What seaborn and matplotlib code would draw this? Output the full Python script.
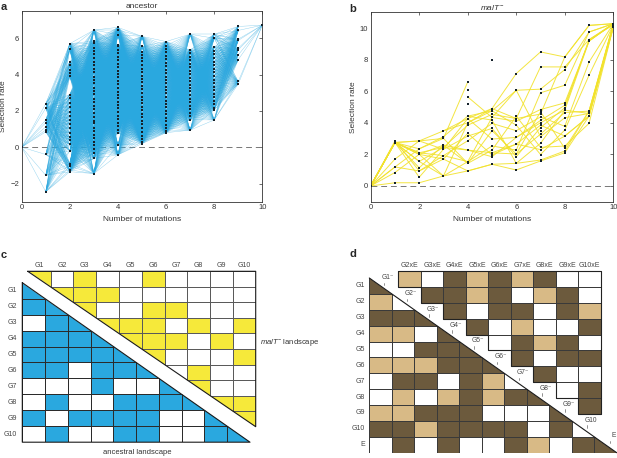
import numpy as np
import pandas as pd
import matplotlib
matplotlib.use("Agg")
import matplotlib.pyplot as plt
import seaborn as sns
from matplotlib.colors import ListedColormap
from matplotlib.patches import Polygon

sns.set_theme(style="white")
plt.rcParams["font.family"] = ["Liberation Sans", "DejaVu Sans"]
plt.rcParams["mathtext.fontset"] = "custom"
plt.rcParams["mathtext.rm"] = "Liberation Sans"
plt.rcParams["mathtext.it"] = "Liberation Sans:italic"

# ---------------- data: panel a (ancestor), selection rate per genotype by number of mutations
a_L0 = [0.0]
a_L1 = [2.4, 2.15, 1.5, 1.35, 1.12, 0.95, 0.85, -0.4, -1.55, -2.45]
a_L2 = [5.7, 5.4, 4.7, 4.5, 4.25, 4.1, 3.9, 2.9, 2.7, 2.45, 2.2, 1.95, 1.7, 1.5, 1.3,
        1.05, 0.8, 0.55, 0.4, 0.15, -0.2, -0.9, -1.05, -1.25, -1.35]
a_L3 = [6.45, 5.85, 5.72, 5.48, 5.31, 5.12, 4.93, 4.71, 4.55, 4.32, 4.14, 3.88, 3.71, 3.52,
        3.27, 3.08, 2.93, 2.66, 2.48, 2.27, 2.12, 1.86, 1.69, 1.47, 1.33, 1.08, 0.91, 0.68,
        0.52, 0.27, 0.11, -0.08, -0.3, -0.62, -1.45]
a_L4 = [6.6, 6.45, 6.2, 5.65, 5.55, 5.38, 5.19, 4.97, 4.82, 4.6, 4.44, 4.21, 4.03, 3.85,
        3.62, 3.47, 3.25, 3.06, 2.88, 2.71, 2.49, 2.3, 2.14, 1.93, 1.72, 1.55, 1.34, 1.17,
        0.96, 0.78, 0.1, -0.42]
a_L5 = [6.1, 5.55, 5.27, 5.08, 4.9, 4.72, 4.51, 4.33, 4.16, 3.94, 3.77, 3.58, 3.36, 3.18,
        2.97, 2.79, 2.61, 2.42, 2.2, 2.03, 1.81, 1.64, 1.43, 1.26, 1.05, 0.86, 0.64, 0.47,
        0.3, 0.2]
a_L6 = [5.82, 5.6, 5.41, 5.22, 5.03, 4.85, 4.64, 4.46, 4.27, 4.08, 3.89, 3.71, 3.52, 3.33,
        3.14, 2.96, 2.74, 2.57, 2.38, 2.19, 2.0, 1.82, 1.61, 1.43, 1.24, 1.06, 0.88, 0.8]
a_L7 = [6.22, 5.36, 5.18, 4.97, 4.79, 4.58, 4.4, 4.21, 4.02, 3.83, 3.62, 3.45, 3.24, 3.07,
        2.86, 2.68, 2.47, 2.29, 2.08, 1.89, 1.7, 1.52, 0.94]
a_L8 = [6.22, 6.0, 5.5, 5.31, 5.12, 4.93, 4.71, 4.52, 4.33, 4.12, 3.93, 3.72, 3.55, 3.34,
        3.15, 2.94, 2.75, 2.54, 2.36, 2.18, 2.05, 1.5]
a_L9 = [6.65, 6.43, 5.95, 5.88, 5.45, 5.36, 5.08, 4.82, 3.62, 3.48]
a_L10 = [6.72]
a_levels = [a_L0, a_L1, a_L2, a_L3, a_L4, a_L5, a_L6, a_L7, a_L8, a_L9, a_L10]

# ---------------- data: panel b (malT-)
b_L0 = [0.0]
b_L1 = [2.85, 2.75, 1.7, 1.2, 0.85, 0.2]
b_L2 = [2.85, 2.35, 2.1, 2.0, 1.55, 1.15, 0.95, 0.55, 0.2]
b_L3 = [3.49, 3.12, 3.01, 2.59, 2.44, 2.32, 1.92, 1.7, 0.63]
b_L4 = [6.59, 6.06, 5.64, 5.16, 4.42, 4.27, 4.0, 3.85, 3.33, 3.16, 2.86, 2.27, 1.54, 1.43, 0.95]
b_L5 = [7.96, 4.9, 4.76, 4.53, 4.34, 4.17, 3.96, 3.64, 3.5, 2.97, 2.53, 2.27, 2.1, 1.96, 1.85, 1.37]
b_L6 = [7.12, 6.06, 4.42, 4.27, 4.1, 3.85, 3.5, 3.07, 2.65, 2.27, 2.02, 1.85, 1.43, 1.01]
b_L7 = [8.49, 7.54, 6.13, 5.9, 4.84, 4.7, 4.55, 4.37, 4.15, 4.0, 3.85, 3.7, 3.5, 3.28, 3.12,
        2.7, 2.44, 2.3, 1.99, 1.64, 1.58]
b_L8 = [8.17, 7.54, 7.37, 6.38, 5.26, 5.11, 4.95, 4.8, 4.65, 4.32, 3.78, 3.54, 3.16, 2.53,
        2.38, 2.21, 2.1]
b_L9 = [10.17, 9.75, 9.27, 9.18, 7.85, 7.01, 4.74, 4.59, 4.42, 3.96]
b_L10 = [10.28, 10.2, 10.06]
b_levels = [b_L0, b_L1, b_L2, b_L3, b_L4, b_L5, b_L6, b_L7, b_L8, b_L9, b_L10]

N = None
b_paths = [
    [0, 2.75, 2.85, 3.49, 4.27, 4.9, 7.12, 8.49, 8.17, 10.17, 10.28],
    [0, 2.75, 2.35, 3.12, 4.42, 4.76, 6.06, 6.13, 7.37, 9.75, 10.28],
    [0, 2.75, 2.1, 2.44, 3.85, 4.53, 4.27, 7.54, 7.54, 9.27, 10.2],
    [0, 2.75, 2.0, 0.63, 1.54, 4.34, 4.1, 4.84, 5.26, 9.18, 10.28],
    [0, 2.75, 1.55, 0.63, 0.95, 1.37, 1.01, 1.58, 2.1, 4.42, 10.06],
    [0, 2.75, 1.15, 2.59, 2.27, 2.1, 2.02, 3.28, 4.65, 4.74, 10.2],
    [0, 2.85, 0.95, 1.92, 2.86, 3.96, 3.5, 4.37, 3.78, 7.85, 10.28],
    [0, 1.7, 2.85, 2.32, 4.27, 2.97, 3.07, 4.0, 4.8, 4.59, 10.2],
    [0, 1.2, 2.35, 3.01, 1.43, 2.27, 4.42, 2.44, 2.53, 3.96, 10.06],
    [0, 0.85, 2.0, 1.7, 3.33, 1.96, 2.65, 2.3, 3.16, 4.42, 10.28],
    [0, 0.2, 0.2, 0.63, 4.0, 4.76, 3.85, 1.99, 3.54, 7.01, 10.2],
    [0, 2.75, 0.55, 2.32, 3.16, 3.64, 1.85, 3.7, 4.95, 9.27, 10.28],
    [0, 2.75, 2.1, 1.92, 1.54, 2.53, 2.27, 5.9, 6.38, 9.75, 10.28],
    [0, 2.75, 2.85, 3.01, 6.59, N, N, N, N, N, N],
    [N, N, N, N, 4.42, 4.17, 1.43, 1.64, 2.21, 4.74, 10.06],
    [0, 2.75, 1.55, 2.44, 2.27, 1.85, 3.07, 4.15, 5.11, 9.18, 10.28],
    [0, 2.75, 2.0, 2.59, 1.43, 3.5, 2.02, 4.7, 2.38, 4.74, 10.28],
    [0, 1.2, 0.95, 1.7, 0.95, 1.37, 1.43, 2.7, 4.8, 9.18, 10.28],
    [N, N, N, 3.49, 4.0, 4.9, 4.27, 4.55, 8.17, 10.17, 10.28],
    [N, N, N, N, 5.64, 4.34, 6.06, 3.12, 4.32, 4.59, 10.2],
    [N, N, N, N, N, 2.1, 2.65, 3.85, 3.16, 4.42, 10.06],
]

# ---------------- data: panel c
genes = ["G1", "G2", "G3", "G4", "G5", "G6", "G7", "G8", "G9", "G10"]
c_anc_rows = [
    [1],
    [1, 1],
    [0, 1, 1],
    [1, 1, 1, 1],
    [1, 1, 1, 1, 1],
    [1, 1, 0, 1, 1, 1],
    [0, 0, 0, 1, 0, 0, 1],
    [0, 1, 0, 0, 1, 1, 1, 1],
    [1, 0, 1, 1, 1, 1, 0, 0, 1],
    [0, 1, 0, 0, 1, 1, 0, 0, 1, 1],
]
c_malT_rows = [
    [1, 0, 1, 0, 0, 1, 0, 0, 0, 0],
    [1, 1, 1, 0, 0, 0, 0, 0, 0],
    [1, 0, 0, 1, 1, 0, 0, 0],
    [1, 1, 1, 0, 1, 0, 1],
    [1, 1, 1, 0, 1, 0],
    [1, 0, 0, 0, 1],
    [0, 1, 0, 0],
    [1, 0, 0],
    [1, 1],
    [1],
]

# ---------------- data: panel d (0 = white, 1 = tan, 2 = dark)
d_rows_lab = genes + ["E"]
d_cols_lab = ["G2xE", "G3xE", "G4xE", "G5xE", "G6xE", "G7xE", "G8xE", "G9xE", "G10xE"]
d_low_rows = [
    [2],
    [1, 0],
    [2, 2, 2],
    [1, 1, 0, 2],
    [0, 0, 2, 2, 2],
    [1, 1, 1, 2, 2, 2],
    [0, 2, 2, 0, 2, 1, 0],
    [0, 1, 0, 1, 2, 1, 2, 2],
    [1, 1, 2, 2, 2, 0, 0, 0, 2],
    [2, 2, 1, 2, 2, 2, 2, 0, 2, 0],
    [0, 2, 0, 2, 0, 0, 2, 1, 0, 2, 2],
]
d_up_rows = [
    [1, 0, 2, 1, 2, 1, 2, 0, 0],
    [2, 2, 1, 2, 0, 1, 2, 0],
    [2, 0, 2, 2, 0, 2, 1],
    [2, 0, 1, 0, 0, 2],
    [0, 2, 1, 2, 0],
    [2, 0, 2, 2],
    [2, 0, 0],
    [0, 2],
    [2],
]
d_stair_labels = ["G1⁻", "G2⁻", "G3⁻", "G4⁻", "G5⁻", "G6⁻", "G7⁻", "G8⁻", "G9⁻", "G10", "E"]

# ---------------- style
BLUE = "#2AA8DF"
YELLOW = "#F6E93A"
YLINE = "#F2E22C"
TAN = "#D8BA86"
DARK = "#6C5A3D"
W, H = 617, 458

fig = plt.figure(figsize=(W / 100, H / 100), dpi=100)
fig.patch.set_facecolor("white")


def frac(x0, y0, x1, y1):
    return [x0 / W, 1 - y1 / H, (x1 - x0) / W, (y1 - y0) / H]


def style_line_ax(ax, ylim, yticks):
    ax.set_xlim(0, 10)
    ax.set_ylim(*ylim)
    ax.set_xticks([0, 2, 4, 6, 8, 10])
    ax.set_yticks(yticks)
    ax.tick_params(direction="in", top=True, right=True, length=2.5, width=0.5,
                   labelsize=5.5, pad=2, colors="#333333")
    for s in ax.spines.values():
        s.set_color("#333333")
        s.set_linewidth(0.6)
        s.set_visible(True)
    ax.axhline(0, color="#777777", lw=0.7, ls=(0, (6, 4)), zorder=1)
    ax.set_xlabel("Number of mutations", fontsize=6, labelpad=3, color="#333333")
    ax.set_ylabel("Selection rate", fontsize=6, labelpad=2, color="#333333")
    ax.set_facecolor("white")
    ax.grid(False)


# ---------- panel a
ax_a = fig.add_axes(frac(21.7, 11, 262.3, 201.7))
rows = []
eid = 0
for k in range(10):
    for y0 in a_levels[k]:
        for y1 in a_levels[k + 1]:
            rows.append((eid, k, y0))
            rows.append((eid, k + 1, y1))
            eid += 1
df_a = pd.DataFrame(rows, columns=["edge", "x", "y"])
sns.lineplot(data=df_a, x="x", y="y", units="edge", estimator=None, color=BLUE,
             lw=0.3, alpha=0.55, ax=ax_a, zorder=2, legend=False)
pts_a = pd.DataFrame([(k, y) for k, lv in enumerate(a_levels) for y in lv], columns=["x", "y"])
sns.scatterplot(data=pts_a, x="x", y="y", color="#15222b", s=4, marker="s",
                linewidth=0, ax=ax_a, zorder=3)
style_line_ax(ax_a, (-3, 7.5), [-2, 0, 2, 4, 6])
ax_a.set_title("ancestor", fontsize=6, pad=2, color="#333333")

# ---------- panel b
ax_b = fig.add_axes(frac(370.7, 12.3, 613.3, 201.7))
rows = []
for i, p in enumerate(b_paths):
    for k, y in enumerate(p):
        if y is not None:
            rows.append((i, k, y))
df_b = pd.DataFrame(rows, columns=["path", "x", "y"])
sns.lineplot(data=df_b, x="x", y="y", units="path", estimator=None, color=YLINE,
             lw=0.7, alpha=0.9, ax=ax_b, zorder=2, legend=False)
pts_b = pd.DataFrame([(k, y) for k, lv in enumerate(b_levels) for y in lv], columns=["x", "y"])
sns.scatterplot(data=pts_b, x="x", y="y", color="#15222b", s=3, marker="s",
                linewidth=0, ax=ax_b, zorder=3)
style_line_ax(ax_b, (-1, 11), [0, 2, 4, 6, 8, 10])
ax_b.set_title(r"$\mathit{malT}^{-}$", fontsize=6, pad=2, color="#333333")


def pad_rows(rws, n, upper=False):
    m = np.zeros((len(rws), n))
    for r, vals in enumerate(rws):
        if upper:
            m[r, r:r + len(vals)] = vals
        else:
            m[r, :len(vals)] = vals
    return m


# ---------- panel c: ancestral (lower, blue)
ax_cb = fig.add_axes(frac(22.3, 282.7, 250, 442.2))
mat = pad_rows(c_anc_rows, 10)
sns.heatmap(mat, cmap=ListedColormap(["white", BLUE]), vmin=0, vmax=1, cbar=False,
            linewidths=0.5, linecolor="#2b2b2b", ax=ax_cb,
            xticklabels=False, yticklabels=genes)
ax_cb.collections[0].set_clip_path(Polygon([(0, 0), (0, 10), (10, 10)], transform=ax_cb.transData))
ax_cb.plot([0, 0, 10, 0], [0, 10, 10, 0], color="#1a1a1a", lw=0.8, clip_on=False)
ax_cb.tick_params(axis="y", length=0, labelsize=5, pad=4, rotation=0, colors="#444444")

# ---------- panel c: malT- (upper, yellow)
ax_cy = fig.add_axes(frac(27.7, 271.3, 255.7, 426.7))
mat = pad_rows(c_malT_rows, 10, upper=True)
sns.heatmap(mat, cmap=ListedColormap(["white", YELLOW]), vmin=0, vmax=1, cbar=False,
            linewidths=0.5, linecolor="#5a5a5a", ax=ax_cy,
            xticklabels=genes, yticklabels=False)
ax_cy.collections[0].set_clip_path(Polygon([(0, 0), (10, 0), (10, 10)], transform=ax_cy.transData))
ax_cy.plot([0, 10, 10, 0], [0, 0, 10, 0], color="#1a1a1a", lw=0.8, clip_on=False)
ax_cy.xaxis.tick_top()
ax_cy.tick_params(axis="x", length=0, labelsize=5, pad=2, rotation=0, colors="#444444")
ax_cy.patch.set_alpha(0)

fig.text(260 / W, 1 - 343 / H, r"$\mathit{malT}^{-}$ landscape", fontsize=5.5,
         color="#333333", va="center", ha="left")
fig.text(137 / W, 1 - 453 / H, "ancestral landscape", fontsize=5.5,
         color="#333333", va="center", ha="center")

# ---------- panel d: lower triangle
cmap_d = ListedColormap(["white", TAN, DARK])
ax_dl = fig.add_axes(frac(369.3, 278, 616.7, 452.7))
mat = pad_rows(d_low_rows, 11)
sns.heatmap(mat, cmap=cmap_d, vmin=0, vmax=2, cbar=False, linewidths=0.5,
            linecolor="#3a3a3a", ax=ax_dl, xticklabels=False, yticklabels=d_rows_lab)
ax_dl.collections[0].set_clip_path(Polygon([(0, 0), (0, 11), (11, 11)], transform=ax_dl.transData))
ax_dl.plot([0, 11], [0, 11], color="#1a1a1a", lw=0.8, clip_on=False)
ax_dl.tick_params(axis="y", length=0, labelsize=5, pad=3, rotation=0, colors="#444444")

# ---------- panel d: upper staircase
ax_du = fig.add_axes(frac(398.3, 271.3, 601, 413.7))
mat = pad_rows(d_up_rows, 9, upper=True)
sns.heatmap(mat, cmap=cmap_d, vmin=0, vmax=2, cbar=False, linewidths=0.5,
            linecolor="#3a3a3a", ax=ax_du, xticklabels=d_cols_lab, yticklabels=False)
stair_x = [0, 9, 9]
stair_y = [0, 0, 9]
for k in range(8, 0, -1):
    stair_x += [k, k]
    stair_y += [k + 1, k]
stair_x += [0, 0]
stair_y += [1, 0]
ax_du.collections[0].set_clip_path(Polygon(list(zip(stair_x, stair_y)), transform=ax_du.transData))
ax_du.plot(stair_x, stair_y, color="#222222", lw=0.8, clip_on=False)
ax_du.xaxis.tick_top()
ax_du.tick_params(axis="x", length=0, labelsize=5, pad=2, rotation=0, colors="#444444")
ax_du.patch.set_alpha(0)
for k, lab in enumerate(d_stair_labels):
    ax_du.text(k - 0.45, k + 0.4, lab, fontsize=4.8, color="#444444", ha="center",
               va="center", clip_on=False)
    ax_du.plot([k - 0.62, k - 0.62], [k + 0.72, k + 0.88], color="#666666", lw=0.5,
               clip_on=False)

# ---------- panel letters
for lab, x, y in [("a", 3.5, 6.5), ("b", 353, 8.5), ("c", 3.5, 255), ("d", 353, 254)]:
    fig.text(x / W, 1 - y / H, lab, fontsize=8, fontweight="bold", ha="center", va="center")

fig.savefig("out.png", dpi=100, facecolor="white")
